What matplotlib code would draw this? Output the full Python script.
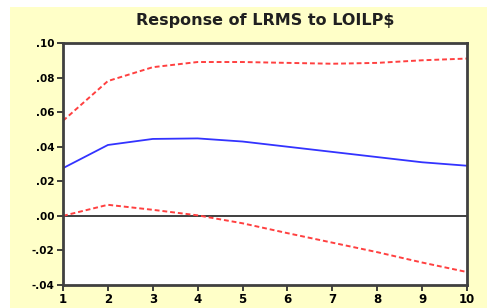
import matplotlib.pyplot as plt
from matplotlib.patches import Rectangle

# periodos y respuestas
periodos = [1, 2, 3, 4, 5, 6, 7, 8, 9, 10]
respuesta = [0.0276, 0.041, 0.0445, 0.0448, 0.043, 0.040, 0.037, 0.034, 0.031, 0.029]
banda_sup = [0.055, 0.078, 0.086, 0.089, 0.089, 0.0885, 0.088, 0.0885, 0.090, 0.091]
banda_inf = [0.000, 0.0064, 0.0035, 0.0003, -0.0043, -0.010, -0.0155, -0.021, -0.027, -0.0325]

y_ticks = [0.10, 0.08, 0.06, 0.04, 0.02, 0.00, -0.02, -0.04]
y_labels = [".10", ".08", ".06", ".04", ".02", ".00", "-.02", "-.04"]

fig = plt.figure(figsize=(4.87, 3.08), dpi=100, facecolor="white")
fig.patches.append(Rectangle((10 / 487, 0), 1, 1 - 7 / 308, transform=fig.transFigure,
                             facecolor="#FFFFC8", edgecolor="none", zorder=-10))

ax = fig.add_axes([63 / 487, 1 - 285 / 308, (467 - 63) / 487, (285 - 43) / 308])
ax.set_facecolor("white")

ax.axhline(0, color="#303030", linewidth=1.3, zorder=1)
ax.plot(periodos, banda_sup, color="#FF4040", linestyle=(0, (2.5, 1.5)), linewidth=1.4)
ax.plot(periodos, banda_inf, color="#FF4040", linestyle=(0, (2.5, 1.5)), linewidth=1.4)
ax.plot(periodos, respuesta, color="#3333FF", linewidth=1.3)

ax.set_xlim(1, 10)
ax.set_ylim(-0.04, 0.10)
ax.set_xticks(periodos)
ax.set_xticklabels([str(p) for p in periodos], fontsize=8.5, fontweight="bold")
ax.set_yticks(y_ticks)
ax.set_yticklabels(y_labels, fontsize=7.5, fontweight="bold")
ax.tick_params(direction="out", length=4, width=1.3, color="#303030", pad=2)

for s in ax.spines.values():
    s.set_linewidth(2)
    s.set_color("#404040")

ax.set_title("Response of LRMS to LOILP$", fontsize=11.5, fontweight="semibold", pad=13,
             color="#202020")

plt.savefig("out.png", dpi=100)
